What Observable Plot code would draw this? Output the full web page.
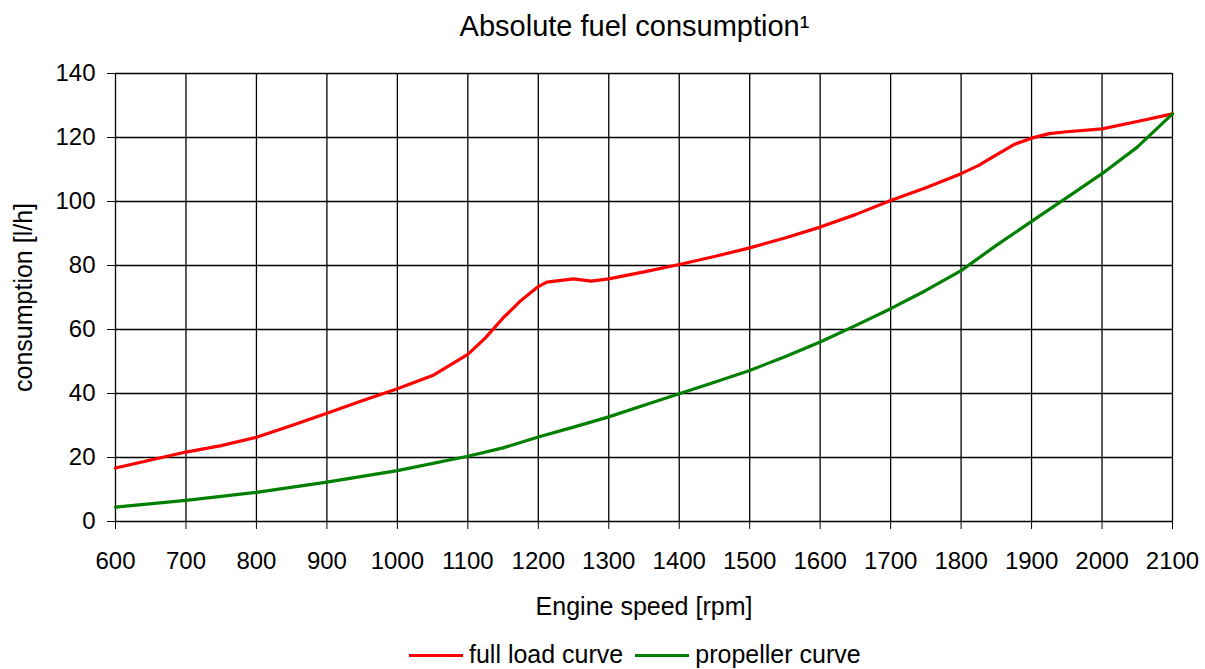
<!DOCTYPE html>
<html>
<head>
<meta charset="utf-8">
<script src="https://cdn.jsdelivr.net/npm/d3@7"></script>
<script src="https://cdn.jsdelivr.net/npm/@observablehq/plot@0.6"></script>
<style>
  html, body { margin: 0; padding: 0; background: #fff; }
  body { font-family: "Liberation Sans", Arial, sans-serif; color: #000; }
  #wrap { width: 1205px; height: 669px; overflow: hidden; }
  #title { height: 45px; line-height: 45px; font-size: 29px; margin-left: 64px; width: 1141px; text-align: center; position: relative; top: 4px; white-space: nowrap; }
  #chart svg { display: block; }
  #legend { height: 29px; padding-top: 20px; line-height: 28px; font-size: 25px; padding-left: 409px; white-space: nowrap; }
  .sw { display: inline-block; width: 54px; height: 3px; vertical-align: middle; margin-right: 6px; position: relative; top: -1px; }
  .item { display: inline-block; }
</style>
</head>
<body>
<div id="wrap">
  <div id="title">Absolute fuel consumption¹</div>
  <div id="chart"></div>
  <div id="legend"></div>
</div>
<script>
// ---- data ----
const xTicks = [600, 700, 800, 900, 1000, 1100, 1200, 1300, 1400, 1500, 1600, 1700, 1800, 1900, 2000, 2100];
const yTicks = [0, 20, 40, 60, 80, 100, 120, 140];

const seriesNames = ["full load curve", "propeller curve"];
const seriesColors = ["#ff0000", "#008000"];

const rpmFull = [600, 650, 700, 750, 800, 850, 900, 950, 1000, 1050, 1100, 1125, 1150, 1175, 1200, 1212, 1250, 1275, 1300, 1350, 1400, 1450, 1500, 1550, 1600, 1650, 1700, 1750, 1800, 1825, 1850, 1875, 1900, 1925, 1950, 2000, 2050, 2100];
const fullLoad = [16.7, 19.2, 21.7, 23.7, 26.3, 30.0, 33.8, 37.7, 41.5, 45.6, 52.2, 57.4, 63.6, 69.0, 73.4, 74.8, 75.8, 75.1, 75.8, 78.0, 80.3, 82.8, 85.5, 88.6, 92.0, 95.9, 100.3, 104.3, 108.7, 111.3, 114.6, 117.8, 119.8, 121.2, 121.8, 122.7, 125.0, 127.4];

const rpmProp = [600, 700, 800, 900, 1000, 1100, 1150, 1200, 1250, 1300, 1350, 1400, 1450, 1500, 1550, 1600, 1650, 1700, 1750, 1800, 1850, 1900, 1950, 2000, 2050, 2100];
const propeller = [4.5, 6.6, 9.1, 12.3, 15.9, 20.4, 23.0, 26.4, 29.5, 32.7, 36.3, 39.9, 43.5, 47.2, 51.5, 56.1, 61.2, 66.5, 72.2, 78.4, 86.3, 93.8, 101.2, 108.7, 117.0, 127.4];

const xLabel = "Engine speed [rpm]";
const yLabel = "consumption [l/h]";

// ---- build table ----
const rows = [
  ...rpmFull.map((r, i) => ({rpm: r, value: fullLoad[i], series: seriesNames[0]})),
  ...rpmProp.map((r, i) => ({rpm: r, value: propeller[i], series: seriesNames[1]}))
];

const chart = Plot.plot({
  width: 1205,
  height: 575,
  marginTop: 28,
  marginBottom: 99,
  marginLeft: 115,
  marginRight: 33,
  style: {fontFamily: '"Liberation Sans", Arial, sans-serif', fontSize: "24px", color: "#000", background: "#fff", overflow: "visible"},
  x: {domain: [600, 2100], ticks: xTicks, tickSize: 8, tickPadding: 22, tickFormat: d => String(d), label: null},
  y: {domain: [0, 140], ticks: yTicks, tickSize: 8, tickPadding: 12, tickFormat: d => String(d), label: null},
  color: {domain: seriesNames, range: seriesColors},
  marks: [
    Plot.ruleX(xTicks, {stroke: "#000", strokeWidth: 1.3}),
    Plot.ruleY(yTicks, {stroke: "#000", strokeWidth: 1.3}),
    Plot.line(rows, {x: "rpm", y: "value", z: "series", stroke: "series", strokeWidth: 3.2, curve: "linear"}),
    Plot.text([xLabel], {text: d => d, frameAnchor: "bottom", textAnchor: "middle", lineAnchor: "middle", dy: 85, fontSize: 25}),
    Plot.text([yLabel], {text: d => d, frameAnchor: "left", textAnchor: "middle", lineAnchor: "middle", rotate: -90, dx: -91.5, fontSize: 25})
  ]
});
document.getElementById("chart").appendChild(chart);

// ---- legend ----
const legend = document.getElementById("legend");
seriesNames.forEach((name, i) => {
  const item = document.createElement("span");
  item.className = "item";
  if (i > 0) item.style.marginLeft = "12px";
  const sw = document.createElement("span");
  sw.className = "sw";
  sw.style.background = seriesColors[i];
  item.appendChild(sw);
  item.appendChild(document.createTextNode(name));
  legend.appendChild(item);
});
</script>
</body>
</html>
